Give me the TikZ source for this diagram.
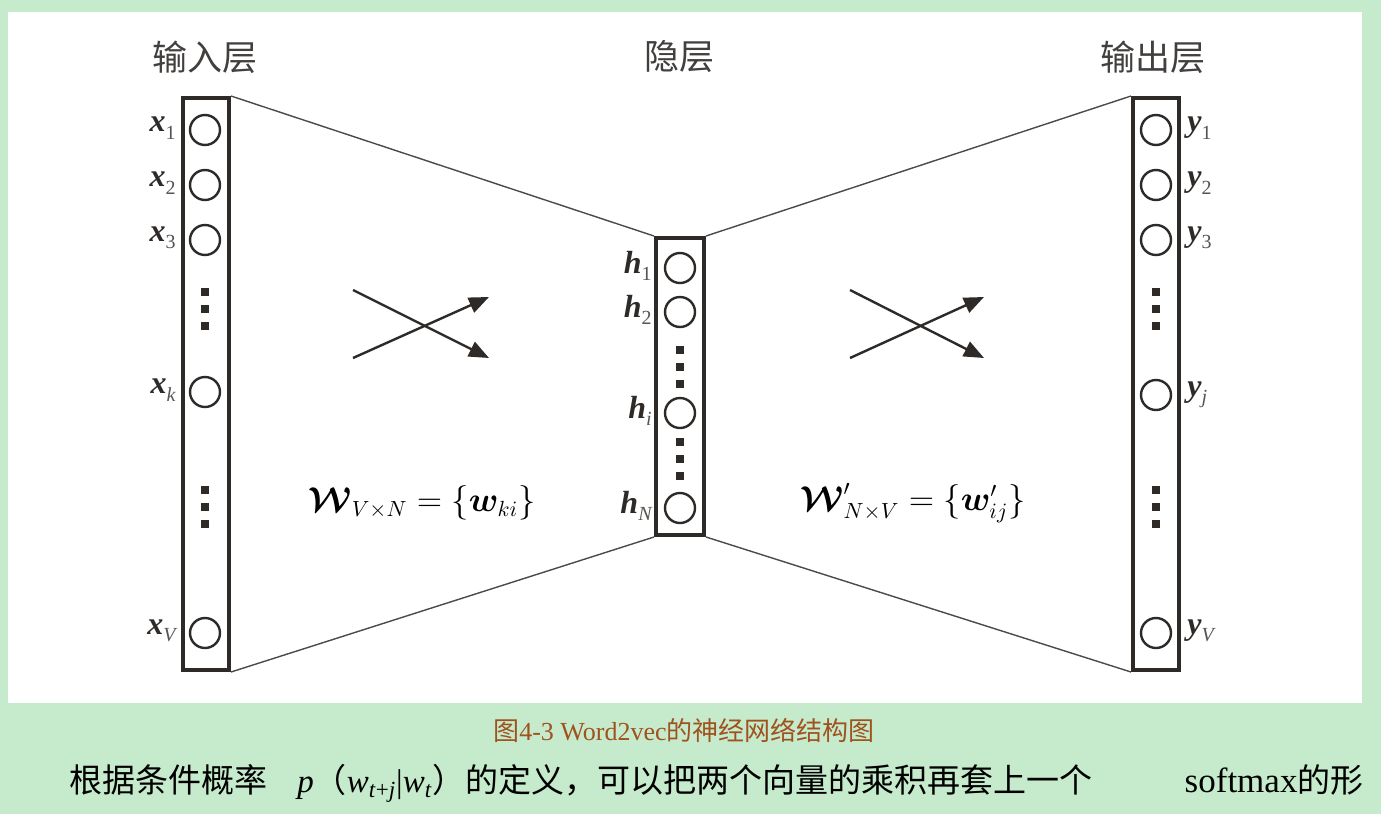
\documentclass[tikz,border=0pt]{standalone}
\usepackage{fontspec}
\usepackage{bm}
\setmainfont{Liberation Serif}
\newfontfamily\cjk{Noto Sans CJK SC}
\usetikzlibrary{arrows.meta}
\definecolor{bggreen}{RGB}{198,235,204}
\definecolor{capbrown}{RGB}{160,82,30}
\definecolor{inkgray}{RGB}{45,42,40}
\newcommand{\nlab}[2]{{\bfseries\itshape #1}\raisebox{-.5ex}{\fontsize{10}{11}\selectfont\color{inkgray!80} #2}}
\tikzset{
  layer/.style={draw=inkgray, line width=2pt, fill=none, inner sep=0pt, minimum width=23pt},
  unit/.style={draw=inkgray, line width=1.2pt, circle, minimum size=15pt, inner sep=0pt},
  dotsq/.style={fill=inkgray, minimum size=4pt, inner sep=0pt},
  link/.style={draw=inkgray!85, line width=0.7pt},
  cross/.style={draw=inkgray, line width=1.2pt, -{Triangle[length=10pt,width=8pt]}},
  lbl/.style={font=\fontsize{16}{17}\selectfont, text=inkgray, inner sep=0pt},
  title/.style={font=\cjk\fontsize{17.5}{19}\selectfont, text=inkgray!90},
}
\begin{document}
\begin{tikzpicture}[x=0.5pt, y=-0.5pt]
\useasboundingbox (0,0) rectangle (1381,814);
\fill[bggreen] (0,0) rectangle (1381,814);
\fill[white] (8,12) rectangle (1362,703);

% titles
\node[title] (t1) at (205,57) {输入层};
\node[title] (t2) at (679,57) {隐层};
\node[title] (t3) at (1153,57) {输出层};

% layers
\node[layer, minimum height=286pt] (inp) at (206,384) {};
\node[layer, minimum width=24pt, minimum height=148.5pt] (hid) at (680,386.5) {};
\node[layer, minimum height=286pt] (out) at (1156,384) {};

% links
\draw[link] (inp.north east) -- (hid.north west);
\draw[link] (inp.south east) -- (hid.south west);
\draw[link] (hid.north east) -- (out.north west);
\draw[link] (hid.south east) -- (out.south west);

% input units
\node[unit] (x1) at (205,130) {};
\node[unit] (x2) at (205,185) {};
\node[unit] (x3) at (205,240) {};
\node[unit] (xk) at (205,392) {};
\node[unit] (xV) at (205,633) {};
\node[dotsq] (xd1) at (205,292) {};
\node[dotsq] (xd2) at (205,309) {};
\node[dotsq] (xd3) at (205,326) {};
\node[dotsq] (xd4) at (205,490) {};
\node[dotsq] (xd5) at (205,507) {};
\node[dotsq] (xd6) at (205,524) {};
\node[lbl, anchor=east] (lx1) at (176,128) {\nlab{x}{1}};
\node[lbl, anchor=east] (lx2) at (176,183) {\nlab{x}{2}};
\node[lbl, anchor=east] (lx3) at (176,238) {\nlab{x}{3}};
\node[lbl, anchor=east] (lxk) at (176,390) {\nlab{x}{\itshape k}};
\node[lbl, anchor=east] (lxV) at (176,631) {\nlab{x}{\itshape V}};

% hidden units
\node[unit] (h1) at (680,268) {};
\node[unit] (h2) at (680,312) {};
\node[unit] (hi) at (680,413) {};
\node[unit] (hN) at (680,508) {};
\node[dotsq] (hd1) at (680,350) {};
\node[dotsq] (hd2) at (680,367) {};
\node[dotsq] (hd3) at (680,384) {};
\node[dotsq] (hd4) at (680,442) {};
\node[dotsq] (hd5) at (680,459) {};
\node[dotsq] (hd6) at (680,476) {};
\node[lbl, anchor=east] (lh1) at (652,266) {\nlab{h}{1}};
\node[lbl, anchor=east] (lh2) at (652,310) {\nlab{h}{2}};
\node[lbl, anchor=east] (lhi) at (652,411) {\nlab{h}{\itshape i}};
\node[lbl, anchor=east] (lhN) at (652,506) {\nlab{h}{\itshape N}};

% output units
\node[unit] (y1) at (1156,130) {};
\node[unit] (y2) at (1156,185) {};
\node[unit] (y3) at (1156,240) {};
\node[unit] (yj) at (1156,395) {};
\node[unit] (yV) at (1156,633) {};
\node[dotsq] (yd1) at (1156,292) {};
\node[dotsq] (yd2) at (1156,309) {};
\node[dotsq] (yd3) at (1156,326) {};
\node[dotsq] (yd4) at (1156,490) {};
\node[dotsq] (yd5) at (1156,507) {};
\node[dotsq] (yd6) at (1156,524) {};
\node[lbl, anchor=west] (ly1) at (1187,128) {\nlab{y}{1}};
\node[lbl, anchor=west] (ly2) at (1187,183) {\nlab{y}{2}};
\node[lbl, anchor=west] (ly3) at (1187,238) {\nlab{y}{3}};
\node[lbl, anchor=west] (lyj) at (1187,395) {\nlab{y}{\itshape j}};
\node[lbl, anchor=west] (lyV) at (1187,631) {\nlab{y}{\itshape V}};

% crossing arrows
\coordinate (a1s) at (353,290); \coordinate (a1e) at (489,358);
\coordinate (a2s) at (353,358); \coordinate (a2e) at (489,297);
\draw[cross] (a1s) -- (a1e);
\draw[cross] (a2s) -- (a2e);
\coordinate (b1s) at (850,290); \coordinate (b1e) at (984,358);
\coordinate (b2s) at (850,358); \coordinate (b2e) at (984,297);
\draw[cross] (b1s) -- (b1e);
\draw[cross] (b2s) -- (b2e);

% formulas
\node[font=\fontsize{16}{18}\selectfont, text=black] (f1) at (422,503) {$\bm{\mathcal{W}}_{V\times N}=\{\bm{w}_{ki}\}$};
\node[font=\fontsize{16}{18}\selectfont, text=black] (f2) at (913,503) {$\bm{\mathcal{W}}'_{N\times V}=\{\bm{w}'_{ij}\}$};

% caption
\node[font=\fontsize{13}{15}\selectfont, text=capbrown] (cap) at (684,730) {{\cjk 图}4-3 Word2vec{\cjk 的神经网络结构图}};

% body text
\node[anchor=west, font=\fontsize{16.5}{18}\selectfont, text=black, inner sep=0pt] (body) at (69,783)
 {{\cjk 根据条件概率}\hspace{15pt}\textit{p}{\cjk （}\textit{w}\textsubscript{\textit{t}+\textit{j}}|\textit{w}\textsubscript{\textit{t}}{\cjk ）的定义，可以把两个向量的乘积再套上一个}\hspace{46pt}{\fontsize{17.5}{18}\selectfont softmax}{\cjk 的形}};
\end{tikzpicture}
\end{document}
